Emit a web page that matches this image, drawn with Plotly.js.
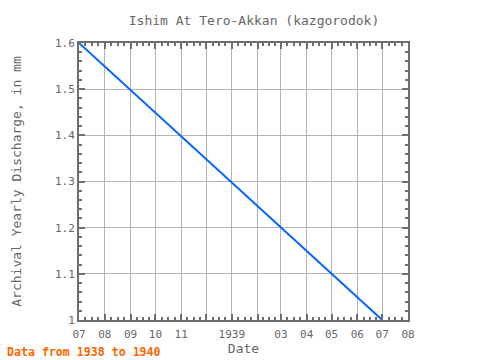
<!DOCTYPE html>
<html><head><meta charset="utf-8">
<script src="https://cdn.plot.ly/plotly-3.0.1.min.js"></script>
<style>body{margin:0;padding:0;background:#fff}</style>
</head><body>
<div id="chart" style="width:480px;height:360px"></div>
<script>
const dates = ['1938-07-01', '1939-07-01'];
const discharge = [1.6, 1.0];
const tickDates = ['1938-07-01','1938-08-01','1938-09-01','1938-10-01','1938-11-01','1938-12-01','1939-01-01','1939-02-01','1939-03-01','1939-04-01','1939-05-01','1939-06-01','1939-07-01','1939-08-01'];
const tickLabels = ['07','08','09','10','11','','1939','','03','04','05','06','07','08'];
const yTicks = [1, 1.1, 1.2, 1.3, 1.4, 1.5, 1.6];
const yLabels = ['1','1.1','1.2','1.3','1.4','1.5','1.6'];

// minor ticks: quarter-month subdivisions
const minorX = [];
for (let i = 0; i < tickDates.length - 1; i++) {
  const a = new Date(tickDates[i] + 'T00:00:00Z').getTime();
  const b = new Date(tickDates[i+1] + 'T00:00:00Z').getTime();
  for (let k = 1; k < 4; k++) {
    minorX.push(new Date(a + (b - a) * k / 4).toISOString().slice(0, 19).replace('T', ' '));
  }
}

const axisColor = '#6e6e6e';
const font = 'DejaVu Sans Mono, Liberation Mono, monospace';

const trace = {
  x: dates, y: discharge, type: 'scatter', mode: 'lines',
  line: {color: '#0066ff', width: 2}, hoverinfo: 'skip'
};

const layout = {
  width: 480, height: 360,
  margin: {l: 79, r: 72, t: 43, b: 40},
  paper_bgcolor: '#fff', plot_bgcolor: '#fff',
  showlegend: false,
  font: {family: font, color: '#666', size: 11},
  title: {text: 'Ishim At Tero-Akkan (kazgorodok)', font: {family: font, size: 13, color: '#666'},
          x: 0.532, xref: 'paper', xanchor: 'center', y: 0.955, yref: 'container'},
  xaxis: {
    type: 'date', range: ['1938-07-01', '1939-08-01'],
    tickmode: 'array', tickvals: tickDates, ticktext: tickLabels,
    ticks: 'inside', ticklen: 6, tickcolor: axisColor, tickwidth: 2,
    showline: true, linecolor: axisColor, linewidth: 2, mirror: 'ticks',
    showgrid: true, gridcolor: '#b4b4b4', gridwidth: 1,
    zeroline: false, ticklabelstandoff: 3,
    tickfont: {family: font, size: 11, color: '#666'},
    minor: {tickmode: 'array', tickvals: minorX, ticks: 'inside', ticklen: 3, tickcolor: axisColor, tickwidth: 2, showgrid: false},
    title: {text: 'Date', font: {family: font, size: 13, color: '#666'}, standoff: 4}
  },
  yaxis: {
    range: [1, 1.6],
    tickmode: 'array', tickvals: yTicks, ticktext: yLabels,
    ticks: 'inside', ticklen: 6, tickcolor: axisColor, tickwidth: 2,
    showline: true, linecolor: axisColor, linewidth: 2, mirror: 'ticks',
    showgrid: true, gridcolor: '#b4b4b4', gridwidth: 1,
    zeroline: false,
    tickfont: {family: font, size: 11, color: '#666'},
    minor: {dtick: 0.02, ticks: 'inside', ticklen: 3, tickcolor: axisColor, tickwidth: 2, showgrid: false},
    title: {text: 'Archival Yearly Discharge, in mm', font: {family: font, size: 13, color: '#666'}, standoff: 30}
  },
  annotations: [{
    text: '<b>Data from 1938 to 1940</b>', xref: 'paper', yref: 'paper',
    x: -74/329, y: -32/277, xanchor: 'left', yanchor: 'middle', showarrow: false,
    font: {family: font, size: 11.6, color: '#ff6600'}
  }]
};

Plotly.newPlot('chart', [trace], layout, {displayModeBar: false, staticPlot: true});
</script>
</body></html>
